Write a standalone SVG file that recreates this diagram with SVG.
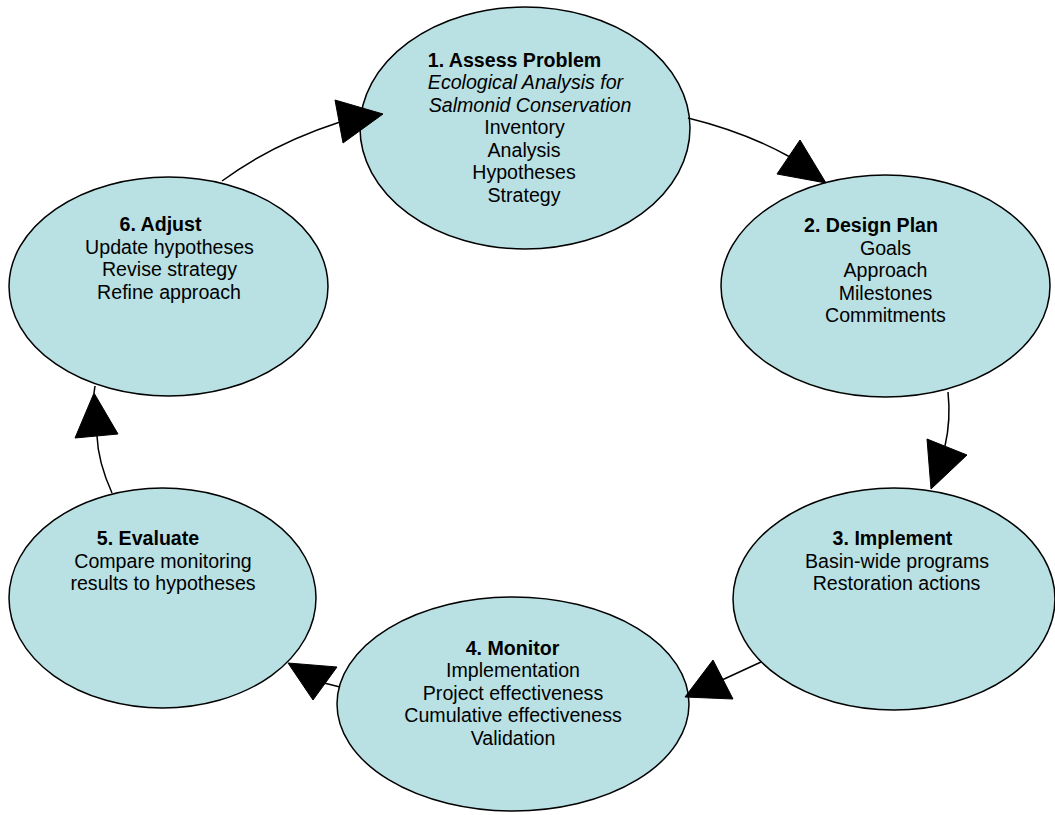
<svg xmlns="http://www.w3.org/2000/svg" width="1055" height="815" viewBox="0 0 1055 815">
<style>
.node{fill:#B9E0E3;stroke:#000;stroke-width:1.5}
.t{font-family:"Liberation Sans",Arial,sans-serif;font-size:19.6px;fill:#000;text-anchor:middle}
.b{font-weight:bold}
.i{font-style:italic}
.line{fill:none;stroke:#000;stroke-width:1.5}
.head{fill:#000;stroke:#000;stroke-width:1}
</style>
<rect width="1055" height="815" fill="#fff"/>
<g id="node1">
<ellipse class="node" cx="525" cy="128" rx="165" ry="121"/>
<text class="t b" x="514.5" y="67">1. Assess Problem</text>
<text class="t i" x="525.5" y="89">Ecological Analysis for</text>
<text class="t i" x="530" y="111.5">Salmonid Conservation</text>
<text class="t" x="524.5" y="134">Inventory</text>
<text class="t" x="524" y="156.5">Analysis</text>
<text class="t" x="524" y="179">Hypotheses</text>
<text class="t" x="524" y="201.5">Strategy</text>
</g>
<g id="node2">
<ellipse class="node" cx="885.5" cy="286" rx="164.5" ry="111"/>
<text class="t b" x="871" y="232">2. Design Plan</text>
<text class="t" x="885.5" y="254.5">Goals</text>
<text class="t" x="885.5" y="277">Approach</text>
<text class="t" x="885.5" y="299.5">Milestones</text>
<text class="t" x="885.5" y="322">Commitments</text>
</g>
<g id="node3">
<ellipse class="node" cx="894" cy="599" rx="161" ry="111"/>
<text class="t b" x="892.5" y="545">3. Implement</text>
<text class="t" x="897" y="567.5">Basin-wide programs</text>
<text class="t" x="896.5" y="590">Restoration actions</text>
</g>
<g id="node4">
<ellipse class="node" cx="513" cy="704" rx="176" ry="107"/>
<text class="t b" x="512.5" y="655">4. Monitor</text>
<text class="t" x="513" y="677">Implementation</text>
<text class="t" x="513" y="699.5">Project effectiveness</text>
<text class="t" x="513" y="722">Cumulative effectiveness</text>
<text class="t" x="513" y="744.5">Validation</text>
</g>
<g id="node5">
<ellipse class="node" cx="162.5" cy="598" rx="153.5" ry="110"/>
<text class="t b" x="148" y="545">5. Evaluate</text>
<text class="t" x="163" y="567.5">Compare monitoring</text>
<text class="t" x="163" y="590">results to hypotheses</text>
</g>
<g id="node6">
<ellipse class="node" cx="168.5" cy="286.5" rx="159.5" ry="109.5"/>
<text class="t b" x="160.5" y="231">6. Adjust</text>
<text class="t" x="169.5" y="253.5">Update hypotheses</text>
<text class="t" x="169.5" y="276">Revise strategy</text>
<text class="t" x="169" y="298.5">Refine approach</text>
</g>
<g id="connectors">
<path class="line" d="M222,181 Q272,144 340,122"/>
<polygon class="head" points="335,100 343,143 383,114"/>
<path class="line" d="M688,118 Q745,132 790,157"/>
<polygon class="head" points="800,140 777,174 826,183"/>
<path class="line" d="M948,392 Q951,420 945,446"/>
<polygon class="head" points="927,439 967,455 931,489"/>
<path class="line" d="M761,662 L722,680"/>
<polygon class="head" points="713,660 733,699 685,697"/>
<path class="line" d="M340,687 L324,683"/>
<polygon class="head" points="288,663 337,667 313,700"/>
<path class="line" d="M112,493 Q98,462 97,436"/>
<polygon class="head" points="75,438 118,434 94,393"/>
<path class="line" d="M94,393 L95,386"/>
</g>
</svg>
